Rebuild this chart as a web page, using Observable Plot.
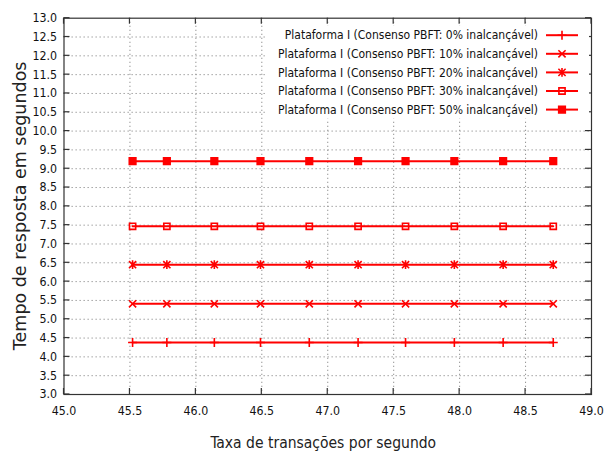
<!DOCTYPE html>
<html><head><meta charset="utf-8">
<script src="https://cdn.jsdelivr.net/npm/d3@7"></script>
<script src="https://cdn.jsdelivr.net/npm/@observablehq/plot@0.6"></script>
<style>html,body{margin:0;padding:0;background:#fff;} #chart svg{display:block}</style>
</head><body><div id="chart"></div>
<script>
// ---- data ----
const taxa = [45.52, 45.78, 46.14, 46.49, 46.86, 47.23, 47.59, 47.96, 48.33, 48.71];
const tempo0  = [4.38, 4.38, 4.38, 4.38, 4.38, 4.38, 4.38, 4.38, 4.38, 4.38];
const tempo10 = [5.41, 5.41, 5.41, 5.41, 5.41, 5.41, 5.41, 5.41, 5.41, 5.41];
const tempo20 = [6.45, 6.45, 6.45, 6.45, 6.45, 6.45, 6.45, 6.45, 6.45, 6.45];
const tempo30 = [7.47, 7.47, 7.47, 7.47, 7.47, 7.47, 7.47, 7.47, 7.47, 7.47];
const tempo50 = [9.20, 9.20, 9.20, 9.20, 9.20, 9.20, 9.20, 9.20, 9.20, 9.20];
const seriesNames = [
  "Plataforma I (Consenso PBFT: 0% inalcançável)",
  "Plataforma I (Consenso PBFT: 10% inalcançável)",
  "Plataforma I (Consenso PBFT: 20% inalcançável)",
  "Plataforma I (Consenso PBFT: 30% inalcançável)",
  "Plataforma I (Consenso PBFT: 50% inalcançável)"
];
const xTicks = [45.0, 45.5, 46.0, 46.5, 47.0, 47.5, 48.0, 48.5, 49.0];
const yTicks = [3.0, 3.5, 4.0, 4.5, 5.0, 5.5, 6.0, 6.5, 7.0, 7.5, 8.0, 8.5, 9.0, 9.5, 10.0, 10.5, 11.0, 11.5, 12.0, 12.5, 13.0];
const xLabel = "Taxa de transações por segundo";
const yLabel = "Tempo de resposta em segundos";

// ---- symbols (gnuplot style) ----
const rad = (size) => Math.sqrt(size / Math.PI);
const symPlus = {draw(c, size){const s = rad(size); c.moveTo(-s,0); c.lineTo(s,0); c.moveTo(0,-s); c.lineTo(0,s);}};
const symTimes = {draw(c, size){const s = rad(size); c.moveTo(-s,-s); c.lineTo(s,s); c.moveTo(-s,s); c.lineTo(s,-s);}};
const symStar = {draw(c, size){const s = rad(size); c.moveTo(-s,-s); c.lineTo(s,s); c.moveTo(-s,s); c.lineTo(s,-s); c.moveTo(0,-s*1.2); c.lineTo(0,s*1.2);}};
const symSquare = {draw(c, size){const s = rad(size); c.moveTo(-s,-s); c.lineTo(s,-s); c.lineTo(s,s); c.lineTo(-s,s); c.closePath();}};

const seriesValues = [tempo0, tempo10, tempo20, tempo30, tempo50];
const styles = [
  {symbol: symPlus, r: 4.5, fill: "none"},
  {symbol: symTimes, r: 3.6, fill: "none"},
  {symbol: symStar, r: 3.6, fill: "none"},
  {symbol: symSquare, r: 3.1, fill: "none"},
  {symbol: symSquare, r: 3.3, fill: "#ff0000"}
];
const red = "#ff0000";

const data = [];
seriesValues.forEach((vals, i) => vals.forEach((v, j) => data.push({series: seriesNames[i], idx: i, x: taxa[j], y: v})));

const gridStyle = {stroke: "#949494", strokeOpacity: 1, strokeWidth: 1, strokeDasharray: "1.3,2.7"};

const chart = Plot.plot({
  width: 605, height: 451,
  marginLeft: 63.5, marginRight: 14, marginTop: 17.7, marginBottom: 57,
  x: {domain: [45, 49]},
  y: {domain: [3, 13]},
  style: {fontFamily: "'DejaVu Sans Condensed', 'DejaVu Sans', sans-serif", fontSize: "12.3px", color: "#111", background: "#fff"},
  marks: [
    Plot.gridX(xTicks.slice(1, -1), gridStyle),
    Plot.gridY(yTicks.slice(1, -1), gridStyle),
    Plot.axisX(xTicks, {anchor: "bottom", tickSize: 0, tickPadding: 12, tickFormat: d => d.toFixed(1), label: null}),
    Plot.axisY(yTicks, {anchor: "left", tickSize: 0, tickPadding: 7, tickFormat: d => d.toFixed(1), label: null}),
    Plot.line(data, {x: "x", y: "y", z: "series", stroke: red, strokeWidth: 2}),
    ...styles.map((st, i) => Plot.dot(data.filter(d => d.idx === i), {x: "x", y: "y", symbol: st.symbol, r: st.r, fill: st.fill, stroke: red, strokeWidth: 1.6})),
    Plot.frame({stroke: "#333", strokeWidth: 1.2})
  ]
});
document.getElementById("chart").appendChild(chart);

// ---- inward ticks, axis titles and legend (drawn with the plot's own scales) ----
const svg = d3.select(chart.tagName.toLowerCase() === "svg" ? chart : chart.querySelector("svg"));
const sx = chart.scale("x"), sy = chart.scale("y");
const [x0, x1] = sx.range, [y0, y1] = sy.range;
const L = Math.min(x0, x1), R = Math.max(x0, x1), T = Math.min(y0, y1), B = Math.max(y0, y1);
const tk = svg.append("g").attr("stroke", "#333").attr("stroke-width", 1.2);
xTicks.forEach(v => {
  const px = sx.apply(v);
  tk.append("line").attr("x1", px).attr("x2", px).attr("y1", B).attr("y2", B - 6);
  tk.append("line").attr("x1", px).attr("x2", px).attr("y1", T).attr("y2", T + 6);
});
yTicks.forEach(v => {
  const py = sy.apply(v);
  tk.append("line").attr("x1", L).attr("x2", L + 6).attr("y1", py).attr("y2", py);
  tk.append("line").attr("x1", R).attr("x2", R - 6).attr("y1", py).attr("y2", py);
});

svg.append("text").text(xLabel)
  .attr("x", (L + R) / 2 - 4).attr("y", 448).attr("text-anchor", "middle")
  .attr("font-family", "'DejaVu Sans Condensed', 'DejaVu Sans', sans-serif").attr("font-size", 15.5).attr("fill", "#222");
svg.append("text").text(yLabel)
  .attr("transform", `translate(26,${(T + B) / 2}) rotate(-90)`).attr("text-anchor", "middle")
  .attr("font-family", "'DejaVu Sans', sans-serif").attr("font-size", 17.5).attr("fill", "#222");

// legend
const lg = svg.append("g");
lg.append("rect").attr("x", R - 326).attr("y", T + 8).attr("width", 324).attr("height", 93).attr("fill", "#fff");
seriesNames.forEach((name, i) => {
  const ry = T + 17.5 + i * 18.6;
  lg.append("text").text(name).attr("x", R - 53).attr("y", ry).attr("dy", "0.35em")
    .attr("text-anchor", "end").attr("font-family", "'DejaVu Sans Condensed', sans-serif").attr("font-size", 12).attr("fill", "#111");
  lg.append("line").attr("x1", R - 45).attr("x2", R - 13).attr("y1", ry).attr("y2", ry).attr("stroke", red).attr("stroke-width", 2);
  const st = styles[i];
  lg.append("path").attr("d", d3.symbol(st.symbol, st.r * st.r * Math.PI)())
    .attr("transform", `translate(${R - 29},${ry})`)
    .attr("fill", st.fill).attr("stroke", red).attr("stroke-width", 1.6);
});
</script></body></html>
